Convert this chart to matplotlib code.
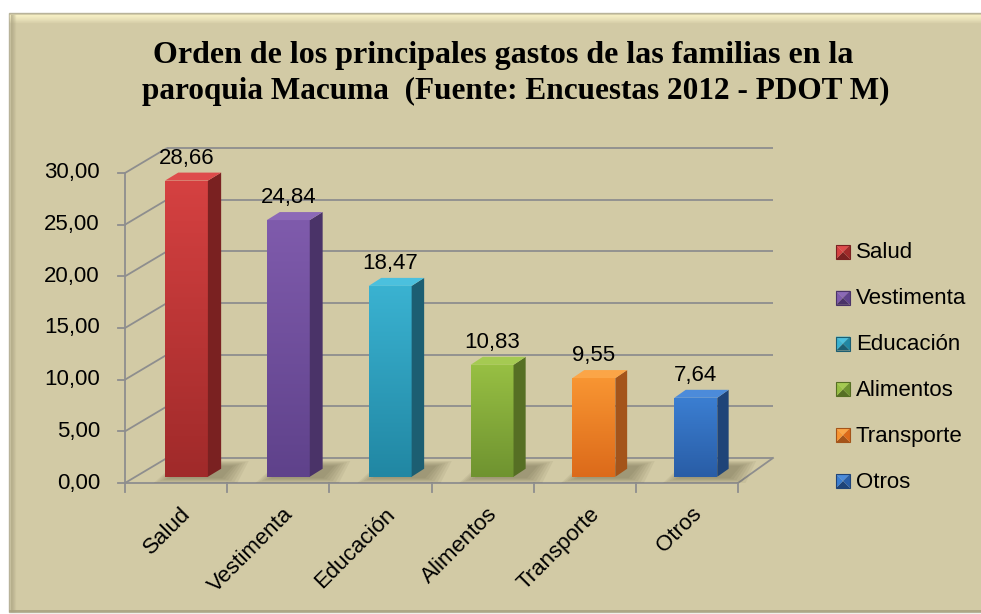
import matplotlib
matplotlib.use('Agg')
import matplotlib.pyplot as plt
import numpy as np
from matplotlib.patches import Polygon, Rectangle
from matplotlib.colors import LinearSegmentedColormap

# datos
categorias = ['Salud', 'Vestimenta', 'Educación', 'Alimentos', 'Transporte', 'Otros']
valores = [28.66, 24.84, 18.47, 10.83, 9.55, 7.64]
y_ticks = [0, 5, 10, 15, 20, 25, 30]
titulo_1 = 'Orden de los principales gastos de las familias en la'
titulo_2 = 'paroquia Macuma  (Fuente: Encuestas 2012 - PDOT M)'

# colores: frente arriba, frente abajo, lado, tapa
c_arriba = ['#D54141', '#7F5BAC', '#3AB2D1', '#97BF43', '#F89532', '#3B7ED1']
c_abajo = ['#A02A2A', '#5F428B', '#2187A3', '#6F9330', '#DC6A1A', '#295DA6']
c_lado = ['#7A2121', '#4A3368', '#1C5E72', '#566F24', '#A4541A', '#1F4478']
c_tapa = ['#DE4C4C', '#8C69B7', '#4BC0DE', '#A5CA52', '#FBA547', '#4C8BDA']

fondo = '#D2CAA5'
gris = '#8E8E8E'
sans = 'Liberation Sans'
fs = 16

W, H = 981, 614
fig = plt.figure(figsize=(9.81, 6.14), dpi=100)
fig.patch.set_facecolor('white')

# capa de fondo en pixeles
bg = fig.add_axes([0, 0, 1, 1], zorder=0)
bg.set_xlim(0, W)
bg.set_ylim(H, 0)
bg.axis('off')
bg.add_patch(Rectangle((9, 13), W, 599, facecolor=fondo, edgecolor='#B8B39A', lw=1))
for k in range(8):
    bg.plot([10, W], [14.5 + k, 14.5 + k], color='#FAF3C8', alpha=0.85 - k * 0.1, lw=1)
for k in range(5):
    bg.plot([10.5 + k, 10.5 + k], [15, 611], color='#A8A180', alpha=0.6 - k * 0.12, lw=1)
bg.plot([10, W], [611, 611], color='#A8A180', lw=1.2)

bg.text(503, 55, titulo_1, ha='center', va='center', fontsize=23,
        fontweight='bold', family='Liberation Serif')
bg.text(516, 91, titulo_2, ha='center', va='center', fontsize=22.5,
        fontweight='bold', family='Liberation Serif')

# leyenda
for k, cat in enumerate(categorias):
    yc = 252 + k * 45.8
    x0, s = 836, 14
    cx, cy = x0 + s / 2, yc
    tri = [
        ([(x0, yc - s / 2), (x0 + s, yc - s / 2), (cx, cy)], c_tapa[k]),
        ([(x0, yc + s / 2), (x0 + s, yc + s / 2), (cx, cy)], c_lado[k]),
        ([(x0, yc - s / 2), (x0, yc + s / 2), (cx, cy)], c_arriba[k]),
        ([(x0 + s, yc - s / 2), (x0 + s, yc + s / 2), (cx, cy)], c_abajo[k]),
    ]
    for pts, col in tri:
        bg.add_patch(Polygon(pts, closed=True, facecolor=col, edgecolor='none'))
    bg.add_patch(Rectangle((x0, yc - s / 2), s, s, facecolor='none',
                           edgecolor=c_lado[k], lw=0.8))
    bg.text(856, yc + 1, cat, ha='left', va='center', fontsize=fs, family=sans)

# ejes principales
px0, cw = 125, (738 - 125) / 6
py0, uh = 483, (483 - 173) / 30
xlim = (-0.9, 6.6)
ylim = (-4, 34)
l_px = px0 + (xlim[0] + 0.5) * cw
r_px = px0 + (xlim[1] + 0.5) * cw
b_px = py0 - ylim[0] * uh
t_px = py0 - ylim[1] * uh
ax = fig.add_axes([l_px / W, 1 - b_px / H, (r_px - l_px) / W, (b_px - t_px) / H], zorder=1)
ax.patch.set_alpha(0)
ax.axis('off')


def dxd(x):
    return (42 - 7 * (x + 0.5) / 6) / cw


dyd = 25 / uh


def proj(x, y, f):
    return x + f * dxd(x), y + f * dyd


# rejilla y paredes
for t in y_ticks:
    xa, ya = proj(-0.5, t, 1)
    xb, yb = proj(5.5, t, 1)
    ax.plot([-0.5, xa], [t, ya], color=gris, lw=1.3, solid_capstyle='butt')
    ax.plot([xa, xb], [ya, yb], color=gris, lw=1.3, solid_capstyle='butt')
    ax.plot([-0.5 - 0.07, -0.5], [t, t], color=gris, lw=1.3)
    ax.text(-0.745, t, f'{t:.2f}'.replace('.', ','), ha='right', va='center',
            fontsize=fs, family=sans)
xb0, yb0 = proj(5.5, 0, 1)
ax.plot([-0.5, 5.5], [0, 0], color=gris, lw=1.3)
ax.plot([5.5, xb0], [0, yb0], color=gris, lw=1.3)
ax.plot([-0.5, -0.5], [0, 30], color=gris, lw=1.3)
for b in np.arange(-0.5, 6.0, 1.0):
    ax.plot([b, b], [0, -0.85], color=gris, lw=1.3)

# barras
f1, f2, bw = 0.25, 0.57, 0.42
xs = [proj(i, 0, f1)[0] for i in range(len(valores))]
base = f1 * dyd

# sombras suaves sobre el piso
for i in range(len(valores)):
    ddx = (f2 - f1) * dxd(i)
    ddy = (f2 - f1) * dyd
    xl, xr = xs[i] - bw / 2, xs[i] + bw / 2
    for k in range(6):
        e = 0.03 * k
        sh = Polygon([(xl + 0.04 - e, base - 0.15 - 3 * e), (xr + ddx * 0.6 + 0.06 + e, base - 0.15 - 3 * e),
                      (xr + ddx + 0.12 + e, base + ddy + 0.3 + 3 * e), (xl + ddx, base + ddy + 0.3 + 3 * e)],
                     closed=True, facecolor='#4A4428', alpha=0.07, edgecolor='none', zorder=2)
        ax.add_patch(sh)

barras = ax.bar(xs, valores, width=bw, bottom=base, color=c_abajo, zorder=3, lw=0)

grad = np.linspace(1, 0, 100).reshape(-1, 1)
for i, (bar, v) in enumerate(zip(barras, valores)):
    ddx = (f2 - f1) * dxd(i)
    ddy = (f2 - f1) * dyd
    xl, xr = xs[i] - bw / 2, xs[i] + bw / 2
    top = base + v
    cmap = LinearSegmentedColormap.from_list('g', [c_abajo[i], c_arriba[i]])
    im = ax.imshow(grad, extent=[xl, xr, base, top], aspect='auto', cmap=cmap,
                   zorder=3.1, origin='upper')
    im.set_clip_path(bar)
    lado = Polygon([(xr, base), (xr + ddx, base + ddy), (xr + ddx, top + ddy), (xr, top)],
                   closed=True, facecolor=c_lado[i], edgecolor='none', zorder=3.2)
    ax.add_patch(lado)
    tapa = Polygon([(xl, top), (xr, top), (xr + ddx, top + ddy), (xl + ddx, top + ddy)],
                   closed=True, facecolor=c_tapa[i], edgecolor='none', zorder=3.2)
    ax.add_patch(tapa)
    ax.text(xs[i], top + ddy + 0.35, f'{v:.2f}'.replace('.', ','), ha='center',
            va='bottom', fontsize=fs, family=sans, zorder=5)

for i, cat in enumerate(categorias):
    ax.text(i + 0.04, -2.0, cat, rotation=45, ha='right', va='top',
            rotation_mode='anchor', fontsize=fs, family=sans)

ax.set_xlim(*xlim)
ax.set_ylim(*ylim)

fig.savefig('out.png', dpi=100, facecolor=fig.get_facecolor())
